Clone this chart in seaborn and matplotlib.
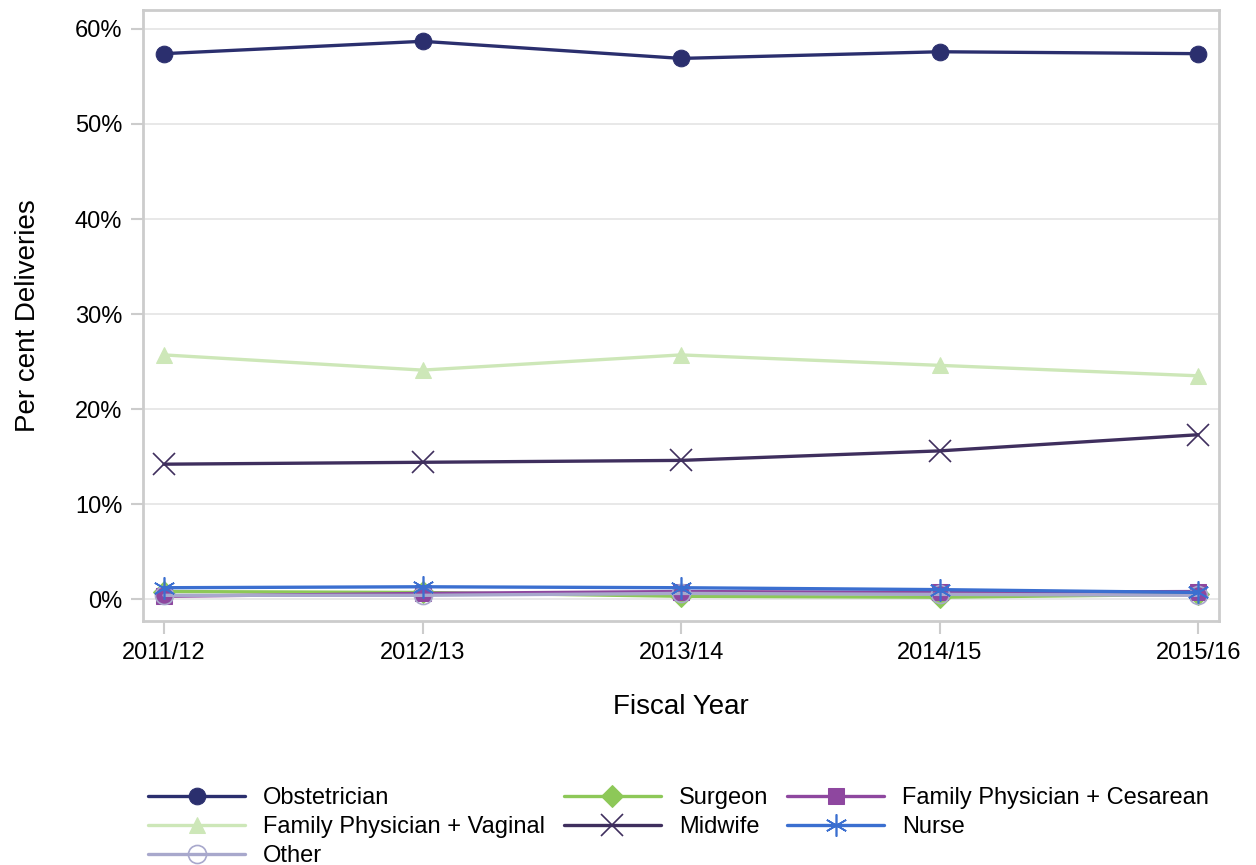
import pandas as pd
import matplotlib
matplotlib.use("Agg")
import matplotlib.pyplot as plt
import seaborn as sns
from matplotlib.ticker import PercentFormatter

years = ["2011/12", "2012/13", "2013/14", "2014/15", "2015/16"]

obstetrician = [57.4, 58.7, 56.9, 57.6, 57.4]
fp_vaginal = [25.7, 24.1, 25.7, 24.6, 23.5]
midwife = [14.2, 14.4, 14.6, 15.6, 17.3]
surgeon = [0.8, 0.7, 0.3, 0.2, 0.5]
fp_cesarean = [0.3, 0.6, 0.8, 0.7, 0.8]
nurse = [1.2, 1.3, 1.2, 1.0, 0.7]
other = [0.4, 0.4, 0.6, 0.5, 0.4]

# name, values, colour, marker, marker kwargs
series = [
    ("Obstetrician", obstetrician, "#2b2f6e", "o", dict(markersize=12)),
    ("Family Physician + Vaginal", fp_vaginal, "#cde7b8", "^", dict(markersize=12)),
    ("Other", other, "#a8a8cc", "o", dict(markersize=13, markerfacecolor="none", markeredgewidth=1.2)),
    ("Surgeon", surgeon, "#8dc858", "D", dict(markersize=11)),
    ("Midwife", midwife, "#3f2f5e", "x", dict(markersize=16, markeredgewidth=1.2)),
    ("Family Physician + Cesarean", fp_cesarean, "#8e479f", "s", dict(markersize=11)),
    ("Nurse", nurse, "#3b6fd0", (6, 2, 0), dict(markersize=16, markeredgewidth=1.2)),
]
draw_order = [0, 1, 4, 3, 5, 2, 6]

sns.set_style("white")
plt.rcParams["font.family"] = ["Liberation Sans", "DejaVu Sans"]
plt.rcParams["text.color"] = "black"
plt.rcParams["axes.labelcolor"] = "black"
plt.rcParams["xtick.color"] = "black"
plt.rcParams["ytick.color"] = "black"

fig = plt.figure(figsize=(12.56, 8.65), dpi=100)
ax = fig.add_axes([0.1139, 0.2821, 0.8567, 0.7064])

handles = {}
for i in draw_order:
    name, vals, color, marker, kw = series[i]
    df = pd.DataFrame({"x": range(len(years)), "y": vals})
    sns.lineplot(data=df, x="x", y="y", ax=ax, color=color, marker=marker,
                 linewidth=2.4, markeredgecolor=color, zorder=3 + (i == 6), **kw)
    handles[i] = ax.lines[-1]

ax.set_xlim(-0.081, 4.081)
ax.set_ylim(-2.3, 62.0)
ax.set_xticks(range(len(years)))
ax.set_xticklabels(years)
ax.set_yticks(range(0, 61, 10))
ax.yaxis.set_major_formatter(PercentFormatter(decimals=0))
ax.grid(axis="y", color="#e6e6e6", linewidth=1.3, zorder=0)
ax.set_axisbelow(True)
for sp in ax.spines.values():
    sp.set_color("#cccccc")
    sp.set_linewidth(2)
ax.tick_params(axis="both", length=9, width=1.5, color="#cccccc",
               labelsize=17, direction="out", bottom=True, left=True, pad=6)
ax.set_xlabel("Fiscal Year", fontsize=20, labelpad=22)
ax.set_ylabel("Per cent Deliveries", fontsize=20, labelpad=24)

fig.legend([handles[i] for i in range(7)], [s[0] for s in series],
           loc="upper left", bbox_to_anchor=(0.118, 0.090), ncol=3, frameon=False,
           fontsize=17, handlelength=4.1, handletextpad=0.77, columnspacing=0.8,
           labelspacing=0.3, borderaxespad=0, borderpad=0)

fig.savefig("out.png", dpi=100)
